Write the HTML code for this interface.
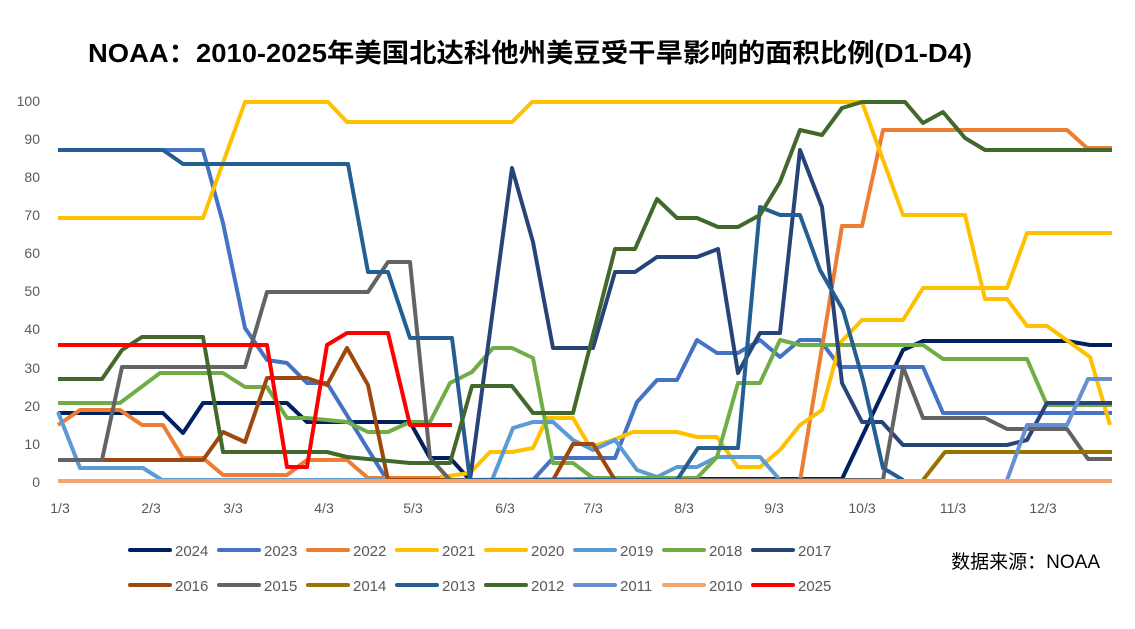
<!DOCTYPE html>
<html><head><meta charset="utf-8"><style>
body{margin:0;background:#fff;}
svg text{font-family:"Liberation Sans","Noto Sans CJK SC",sans-serif;}
</style></head><body>
<svg width="1135" height="624" viewBox="0 0 1135 624" xmlns="http://www.w3.org/2000/svg">
<rect width="1135" height="624" fill="#fff"/>
<text x="88" y="62" textLength="884" lengthAdjust="spacingAndGlyphs" font-size="26" font-weight="bold" fill="#000">NOAA：2010-2025年美国北达科他州美豆受干旱影响的面积比例(D1-D4)</text>
<g font-size="14" fill="#595959" text-anchor="end">
<text x="40" y="106">100</text><text x="40" y="144">90</text><text x="40" y="182">80</text><text x="40" y="220">70</text><text x="40" y="258">60</text><text x="40" y="296">50</text><text x="40" y="334">40</text><text x="40" y="373">30</text><text x="40" y="411">20</text><text x="40" y="449">10</text><text x="40" y="487">0</text>
</g>
<g font-size="14" fill="#595959" text-anchor="middle">
<text x="60" y="513">1/3</text><text x="151" y="513">2/3</text><text x="233" y="513">3/3</text><text x="324" y="513">4/3</text><text x="413" y="513">5/3</text><text x="505" y="513">6/3</text><text x="593" y="513">7/3</text><text x="684" y="513">8/3</text><text x="774" y="513">9/3</text><text x="862" y="513">10/3</text><text x="953" y="513">11/3</text><text x="1043" y="513">12/3</text>
</g>
<line x1="58" y1="482" x2="1112" y2="482" stroke="#d9d9d9" stroke-width="1"/>
<g fill="none" stroke-width="4" stroke-linejoin="round">
<polyline stroke="#002060" points="58,413 163,413 183,433 203,403 287,403 307,422 410,422 430,458 450,458 470,480 677,479 842,479 903,350 923,341 1067,341 1090,345 1112,345"/>
<polyline stroke="#4472C4" points="58,150 203,150 223,223 245,328 267,360 287,363 307,383 327,383 387,480 533,480 553,458 615,458 637,402 657,380 677,380 697,340 717,353 738,353 760,340 780,357 800,340 820,340 840,367 923,367 943,413 1112,413"/>
<polyline stroke="#ED7D31" points="58,425 80,410 120,410 142,425 163,425 183,458 203,458 223,475 287,475 307,460 347,460 368,478 440,478 460,481 800,481 842,226 862,226 883,130 1067,130 1087,148 1112,148"/>
<polyline stroke="#FFC000" points="58,218 203,218 245,102 328,102 347,122 512,122 532,102 862,102 903,215 965,215 985,299 1007,299 1027,326 1047,326 1090,357 1110,425"/>
<polyline stroke="#FFC000" points="440,477 470,473 490,452 512,452 533,448 547,418 573,418 590,447 613,440 633,432 677,432 697,437 717,437 738,467 760,467 780,450 800,425 822,410 840,343 862,320 903,320 923,288 1007,288 1027,233 1112,233"/>
<polyline stroke="#5B9BD5" points="58,412 80,468 143,468 162,480 492,480 513,428 533,422 553,422 573,440 593,450 615,440 637,470 657,477 677,467 697,467 717,457 760,457 780,480"/>
<polyline stroke="#70AD47" points="58,403 120,403 160,373 223,373 245,387 267,387 287,418 307,418 347,422 368,432 388,432 410,422 430,422 450,383 472,372 493,348 512,348 533,358 553,463 573,463 593,478 697,478 717,457 738,383 760,383 780,340 800,345 923,345 943,359 1027,359 1047,405 1112,405"/>
<polyline stroke="#264478" points="470,480 512,168 533,242 553,348 593,348 615,272 635,272 657,257 697,257 718,249 738,373 760,333 780,333 800,150 822,207 842,383 862,422 882,422 903,445 1007,445 1027,440 1047,403 1112,403"/>
<polyline stroke="#9E480E" points="58,460 203,460 223,432 245,442 267,378 307,378 327,385 347,348 368,385 388,480 553,480 573,444 593,444 615,480"/>
<polyline stroke="#636363" points="58,460 102,460 122,367 245,367 267,292 368,292 388,262 410,262 430,458 450,480 883,480 903,367 923,418 985,418 1007,429 1067,429 1088,459 1112,459"/>
<polyline stroke="#997300" points="923,480 945,452 1112,452"/>
<polyline stroke="#255E91" points="58,150 163,150 183,164 348,164 368,272 388,272 410,338 452,338 470,480 677,480 698,448 738,448 760,207 780,215 800,215 820,270 843,310 863,380 883,468 903,480"/>
<polyline stroke="#43682B" points="58,379 102,379 122,350 142,337 203,337 223,452 327,452 347,457 410,463 450,463 472,386 512,386 533,413 573,413 615,249 635,249 657,199 677,218 697,218 718,227 738,227 760,215 780,182 800,130 822,135 842,108 862,102 905,102 923,123 943,112 965,138 985,150 1112,150"/>
<polyline stroke="#698ED0" points="1007,480 1027,425 1067,425 1088,379 1112,379"/>
<polyline stroke="#F4A46E" points="58,481 1112,481"/>
<polyline stroke="#FF0000" points="58,345 267,345 287,467 307,467 327,345 347,333 388,333 410,425 452,425"/>
</g>
<g stroke-width="4" stroke-linecap="round">
<line x1="130" y1="550" x2="170" y2="550" stroke="#002060"/>
<line x1="219" y1="550" x2="259" y2="550" stroke="#4472C4"/>
<line x1="308" y1="550" x2="348" y2="550" stroke="#ED7D31"/>
<line x1="397" y1="550" x2="437" y2="550" stroke="#FFC000"/>
<line x1="486" y1="550" x2="526" y2="550" stroke="#FFC000"/>
<line x1="575" y1="550" x2="615" y2="550" stroke="#5B9BD5"/>
<line x1="664" y1="550" x2="704" y2="550" stroke="#70AD47"/>
<line x1="753" y1="550" x2="793" y2="550" stroke="#264478"/>
<line x1="130" y1="585" x2="170" y2="585" stroke="#9E480E"/>
<line x1="219" y1="585" x2="259" y2="585" stroke="#636363"/>
<line x1="308" y1="585" x2="348" y2="585" stroke="#997300"/>
<line x1="397" y1="585" x2="437" y2="585" stroke="#255E91"/>
<line x1="486" y1="585" x2="526" y2="585" stroke="#43682B"/>
<line x1="575" y1="585" x2="615" y2="585" stroke="#698ED0"/>
<line x1="664" y1="585" x2="704" y2="585" stroke="#F4A46E"/>
<line x1="753" y1="585" x2="793" y2="585" stroke="#FF0000"/>
</g>
<g font-size="15" fill="#595959">
<text x="175" y="556">2024</text><text x="264" y="556">2023</text><text x="353" y="556">2022</text><text x="442" y="556">2021</text><text x="531" y="556">2020</text><text x="620" y="556">2019</text><text x="709" y="556">2018</text><text x="798" y="556">2017</text>
<text x="175" y="591">2016</text><text x="264" y="591">2015</text><text x="353" y="591">2014</text><text x="442" y="591">2013</text><text x="531" y="591">2012</text><text x="620" y="591">2011</text><text x="709" y="591">2010</text><text x="798" y="591">2025</text>
</g>
<text x="1100" y="568" text-anchor="end" font-size="19" fill="#000">数据来源：NOAA</text>
</svg>
</body></html>
